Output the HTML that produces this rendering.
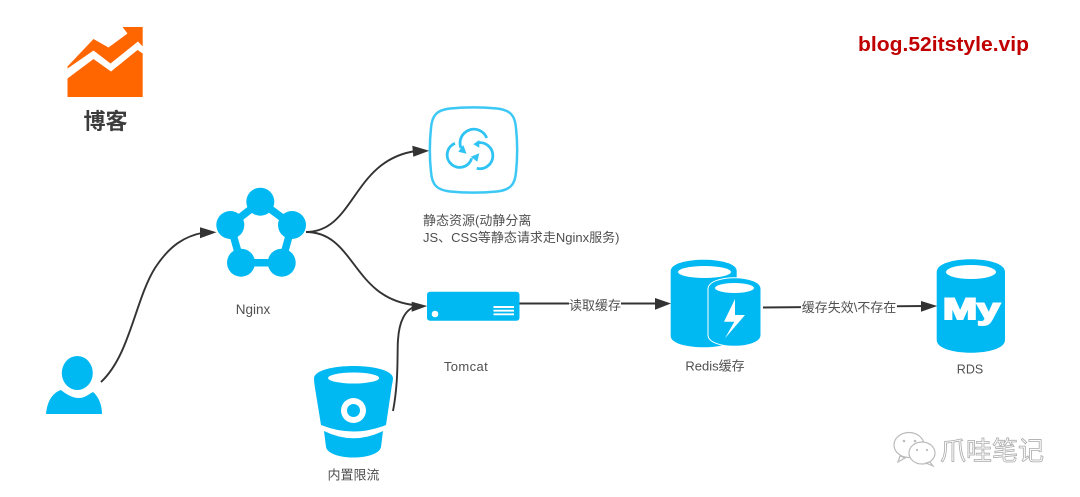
<!DOCTYPE html>
<html>
<head>
<meta charset="utf-8">
<style>
html,body{margin:0;padding:0;background:#fff}
svg{display:block}
text{font-family:"Liberation Sans","Noto Sans CJK SC",sans-serif;fill:#505050;font-size:13px}
</style>
</head>
<body>
<svg width="1080" height="497" viewBox="0 0 1080 497" xmlns="http://www.w3.org/2000/svg">
<rect width="1080" height="497" fill="#fff"/>

<!-- logo -->
<polygon fill="#ff6600" points="67.5,66.5 93.5,39 108.5,47.5 127.5,33.5 122.5,27 142.7,27 142.7,46.5 138,41.5 110.5,63.5 93.5,50.5 67.5,68.5"/>
<polygon fill="#ff6600" points="67.5,78.5 93.5,59 111,71.5 137.5,50 142.7,53.5 142.7,97 67.5,97"/>
<text x="105.5" y="129" text-anchor="middle" style="font-size:22px;font-weight:700;fill:#3c3c3c">博客</text>

<text x="858" y="51" textLength="171" lengthAdjust="spacingAndGlyphs" style="font-size:20.5px;font-weight:700;fill:#c00000">blog.52itstyle.vip</text>

<!-- connectors -->
<g fill="none" stroke="#333" stroke-width="1.900">
<path d="M101,382 C130,355 135,300 155,268 C170,245 185,236 204,232.500"/>
<path d="M306,232 C355,232 352,160 416,151"/>
<path d="M306,232 C355,232 352,298 414,305"/>
<path d="M393,411 C399,380 397,350 398,340 C399,322 405,309 416,306.500"/>
<path d="M519,303.500 H660"/>
<path d="M763,307.500 L926,306"/>
</g>
<g fill="#333">
<polygon points="200,227.300 216.500,232.300 200,238.300"/>
<polygon points="412.300,145.700 429.300,150.700 413.300,156.700"/>
<polygon points="411.700,301.700 427.300,306 411.700,311.700"/>
<polygon points="655,298 671,303.500 655,309.800"/>
<polygon points="921,301 937.300,306 921,311.700"/>
</g>

<!-- nginx -->
<polygon points="260.300,201.700 292,225 281.700,262.700 241,262.700 230.300,225" fill="none" stroke="#00b9f2" stroke-width="7.500"/>
<g fill="#00b9f2">
<circle cx="260.300" cy="201.700" r="14"/>
<circle cx="292" cy="225" r="14"/>
<circle cx="281.700" cy="262.700" r="14"/>
<circle cx="241" cy="262.700" r="14"/>
<circle cx="230.300" cy="225" r="14"/>
</g>
<text x="253" y="314" text-anchor="middle" style="font-size:13.500px">Nginx</text>

<!-- cloud box -->
<path d="M450,108.500 C465,107 482,107 497,108.500 C510,110 515,115 516,128 C517.500,142 517.500,158 516,172 C515,185 510,190 497,191.500 C482,193 465,193 450,191.500 C437,190 432,185 431,172 C429.500,158 429.500,142 431,128 C432,115 437,110 450,108.500 Z" fill="#fff" stroke="#3cc8f5" stroke-width="2.500"/>
<g fill="none" stroke="#2fc3f4" stroke-width="2.800">
<path d="M486.700,138 A13.500,13.500 0 1 0 461,148"/>
<path d="M455,143.300 A12.500,12.500 0 1 0 471.700,158.300"/>
<path d="M477,143 A13,13 0 1 1 476.700,168.300"/>
</g>
<g fill="#2fc3f4">
<polygon points="458.300,151.700 466.500,153.800 463.300,145"/>
<polygon points="473.300,144.300 479.300,140 479.300,147.700"/>
<polygon points="479.300,153.300 470.700,156.700 477.300,161.700"/>
</g>
<text x="423" y="225">静态资源(动静分离</text>
<text x="423" y="242">JS、CSS等静态请求走Nginx服务)</text>

<!-- tomcat -->
<rect x="427" y="291.700" width="92.500" height="29" rx="3" fill="#00b9f2"/>
<circle cx="435" cy="314" r="3.300" fill="#fff"/>
<g stroke="#fff" stroke-width="1.900">
<line x1="493.500" y1="307" x2="514" y2="307"/>
<line x1="493.500" y1="310.700" x2="514" y2="310.700"/>
<line x1="493.500" y1="314.300" x2="514" y2="314.300"/>
</g>
<text x="466" y="371" text-anchor="middle" style="letter-spacing:.4px">Tomcat</text>

<rect x="569" y="296" width="52" height="18" fill="#fff"/>
<text x="595" y="310" text-anchor="middle">读取缓存</text>

<!-- redis -->
<path d="M670.700,271 C670.700,256 736.700,256 736.700,271 V336 C736.700,351 670.700,351 670.700,336 Z" fill="#00b9f2"/>
<ellipse cx="704.500" cy="272" rx="26.500" ry="6" fill="#fff"/>
<path d="M708,289 C708,274 761,274 761,289 V335 C761,350 708,350 708,335 Z" fill="#00b9f2" stroke="#fff" stroke-width="1"/>
<ellipse cx="734.500" cy="288" rx="19.500" ry="5" fill="#fff"/>
<polygon points="735,299 724,321.700 734.300,321.700 725,338.300 745,315 735,315" fill="#fff"/>
<text x="715" y="370.500" text-anchor="middle">Redis缓存</text>

<rect x="801" y="299" width="96" height="18" fill="#fff"/>
<text x="849" y="312" text-anchor="middle">缓存失效\不存在</text>

<!-- RDS -->
<path d="M936.700,272 C936.700,255 1005,255 1005,272 V340 C1005,357 936.700,357 936.700,340 Z" fill="#00b9f2"/>
<ellipse cx="971" cy="272" rx="25" ry="7" fill="#fff"/>
<text x="943" y="319" textLength="57" lengthAdjust="spacingAndGlyphs" style="font-size:30px;font-weight:700;fill:#fff;stroke:#fff;stroke-width:2">My</text>
<text x="970" y="373.500" text-anchor="middle" style="font-size:12.500px">RDS</text>

<!-- user -->
<ellipse cx="77.300" cy="373" rx="15.500" ry="17" fill="#00b9f2"/>
<path d="M46,414 C47,402 52,393 61,390 C66,394 72,398 79,398 C85,398 89,394 93,392 C98,396 102,404 102,414 Z" fill="#00b9f2"/>

<!-- bucket -->
<path d="M314,378 C316,362 391,362 393,378 C393,381 392,384 391.500,388 L386,425 Q353.500,438 321,425 L315,388 C314.500,384 314,381 314,378 Z" fill="#00b9f2"/>
<ellipse cx="353.600" cy="378" rx="25.500" ry="5.500" fill="#fff"/>
<circle cx="353.500" cy="410.500" r="12.500" fill="#fff"/>
<circle cx="353.500" cy="410.500" r="6.500" fill="#00b9f2"/>
<path d="M324,431 Q353.500,445.500 383,431 L381,447 C378,461 329,461 326,447 Z" fill="#00b9f2"/>
<text x="353.500" y="479.500" text-anchor="middle">内置限流</text>

<!-- watermark -->
<g fill="#fff" stroke="#bbb" stroke-width="1.200">
<ellipse cx="909" cy="445" rx="15" ry="12.500"/>
<path d="M900,456 L898,462 L905,458 Z"/>
<ellipse cx="922" cy="453" rx="13" ry="11"/>
<path d="M930,462 L933,466 L926,463 Z"/>
</g>
<g fill="#bbb">
<circle cx="904" cy="441" r="1.300"/>
<circle cx="915" cy="441" r="1.300"/>
<circle cx="917" cy="450" r="1.100"/>
<circle cx="927" cy="450" r="1.100"/>
</g>
<text x="940" y="460" style="font-size:26px;fill:#fff;stroke:#aaa;stroke-width:.8">爪哇笔记</text>
</svg>
</body>
</html>
